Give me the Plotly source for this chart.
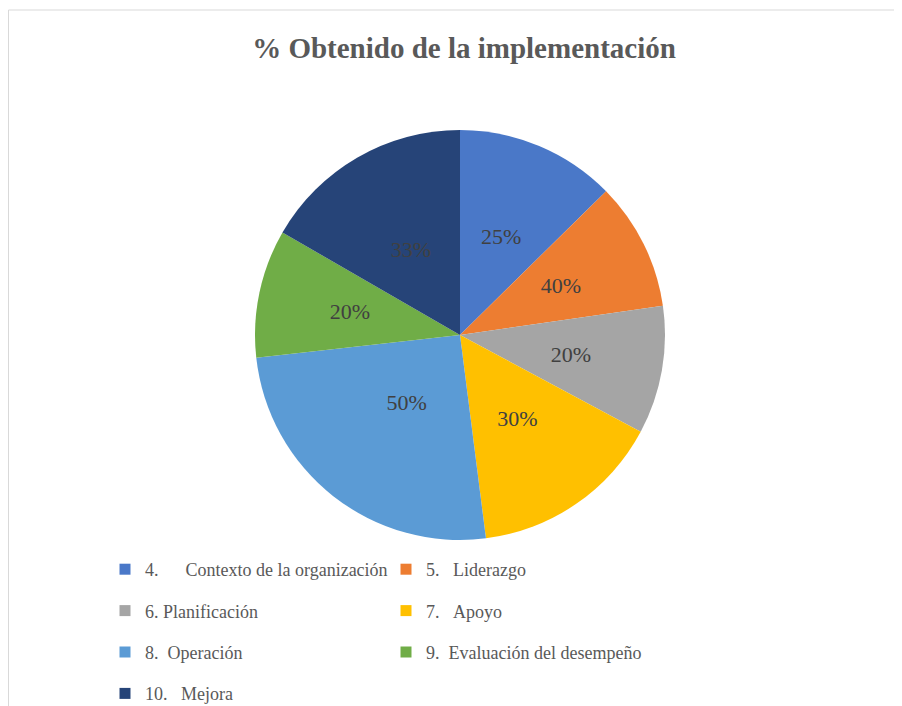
import plotly.graph_objects as go

# datos del grafico
categorias = ["4.\u00a0\u00a0\u00a0\u00a0\u00a0\u00a0Contexto de la organización", "5.\u00a0\u00a0\u00a0Liderazgo",
              "6. Planificación", "7.\u00a0\u00a0\u00a0Apoyo", "8.\u00a0\u00a0Operación",
              "9.\u00a0\u00a0Evaluación del desempeño", "10.\u00a0\u00a0\u00a0Mejora"]
valores = [25, 20, 20, 30, 50, 20, 33]
etiquetas = ["25%", "40%", "20%", "30%", "50%", "20%", "33%"]
colores = ["#4A78C8", "#ED7D31", "#A5A5A5", "#FFC000", "#5B9BD5", "#70AD47", "#264478"]

W, H = 902, 706
FUENTE = "Liberation Serif, Times New Roman, serif"

# el html se dibuja con un margen de 8px, por eso todo va corrido
cx, cy, R = 452, 327, 205
r2 = 0.72 * R   # pastel transparente solo para ubicar los porcentajes

fig = go.Figure()
# pastel principal
fig.add_trace(go.Pie(labels=categorias, values=valores, textinfo="none",
                     sort=False, direction="clockwise", rotation=0, showlegend=False,
                     marker=dict(colors=colores, line=dict(color="white", width=0)),
                     hoverinfo="label+value",
                     domain=dict(x=[(cx-R)/W, (cx+R)/W], y=[1-(cy+R)/H, 1-(cy-R)/H])))
# etiquetas de porcentaje
fig.add_trace(go.Pie(labels=categorias, values=valores, text=etiquetas, textinfo="text",
                     textposition="inside", insidetextorientation="horizontal",
                     sort=False, direction="clockwise", rotation=0, showlegend=False,
                     marker=dict(colors=["rgba(0,0,0,0)"]*len(valores)),
                     textfont=dict(family=FUENTE, size=22, color="#404040"),
                     hoverinfo="skip",
                     domain=dict(x=[(cx-r2)/W, (cx+r2)/W], y=[1-(cy+r2)/H, 1-(cy-r2)/H])))

# leyenda en dos columnas (trazas vacias)
for i, (cat, col) in enumerate(zip(categorias, colores)):
    fig.add_trace(go.Scatter(x=[None], y=[None], mode="markers", name=cat,
                             marker=dict(symbol="square", size=11, color=col),
                             legend="legend" if i % 2 == 0 else "legend2",
                             legendgroup=str(i), showlegend=True))

ley = dict(orientation="v", yanchor="top", y=1-543/H, xanchor="left", tracegroupgap=15,
           itemwidth=30, font=dict(family=FUENTE, size=18, color="#595959"),
           bgcolor="rgba(0,0,0,0)")

fig.update_layout(
    width=W, height=H,
    margin=dict(l=0, r=0, t=0, b=0),
    paper_bgcolor="white", plot_bgcolor="white",
    xaxis=dict(visible=False), yaxis=dict(visible=False),
    uniformtext=dict(minsize=22, mode="show"),
    title=dict(text="<b>% Obtenido de la implementación</b>", x=456/W, xanchor="center",
               y=1-40/H, yanchor="middle",
               font=dict(family=FUENTE, size=29, color="#595959")),
    legend=dict(ley, x=97/W),
    legend2=dict(ley, x=378/W),
    shapes=[dict(type="rect", xref="paper", yref="paper", x0=0.5/W, x1=1.01, y0=-0.1, y1=1-2/H,
                 line=dict(color="#D9D9D9", width=1))],
)

fig.write_html("out.html")
